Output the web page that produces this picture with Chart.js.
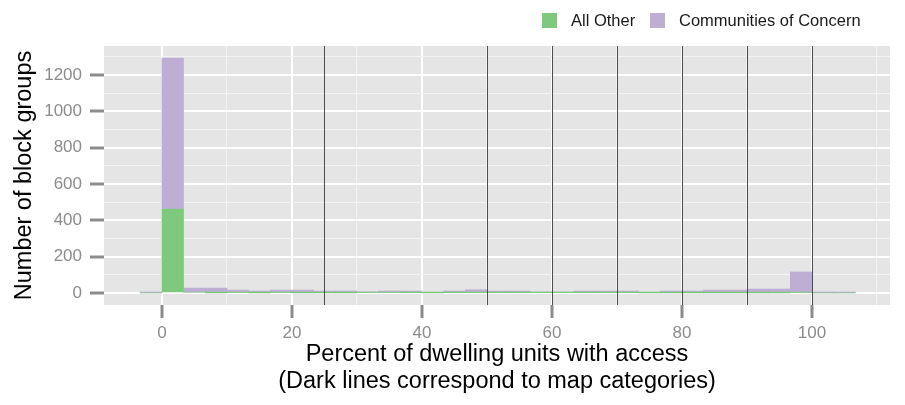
<!DOCTYPE html>
<html><head><meta charset="utf-8">
<script src="https://cdn.jsdelivr.net/npm/chart.js@4.4.0/dist/chart.umd.min.js"></script>
<style>
html,body{margin:0;padding:0;background:#fff;}
#wrap{position:relative;width:905px;height:405px;overflow:hidden;}
canvas{position:absolute;left:0;top:0;}
.leg{position:absolute;top:12px;height:16px;display:flex;align-items:center;font:16.5px 'Liberation Sans',Arial,Helvetica,sans-serif;color:#1a1a1a;white-space:nowrap;}
.sw{display:inline-block;width:15px;height:15px;margin-right:14px;}
</style></head><body>
<div id="wrap"><canvas id="c" width="905" height="405"></canvas></div>
<script>
// Histogram bins (bin centres, percent of dwelling units with access)
const binCenters = [-1.667, 1.667, 5.0, 8.333, 11.667, 15.0, 18.333, 21.667, 25.0, 28.333,
  31.667, 35.0, 38.333, 41.667, 45.0, 48.333, 51.667, 55.0, 58.333, 61.667,
  65.0, 68.333, 71.667, 75.0, 78.333, 81.667, 85.0, 88.333, 91.667, 95.0,
  98.333, 101.667, 105.0];
const allOther = [0, 462, 5, 1, 3, 1, 3, 1, 1, 1,
  3, 3, 2, 1, 2, 2, 2, 2, 2, 2,
  2, 2, 2, 1, 1, 1, 1, 1, 1, 1,
  3, 0, 0];
const communitiesOfConcern = [2, 831, 22, 26, 13, 10, 13, 15, 10, 10,
  3, 8, 9, 3, 9, 16, 9, 9, 3, 3,
  9, 9, 9, 3, 10, 10, 15, 15, 21, 21,
  113, 2, 2];
const seriesNames = ['All Other', 'Communities of Concern'];
const seriesColors = ['#7FC97F', '#BEAED4'];
const mapBreaks = [25, 50, 60, 70, 80, 90, 100];
const xTickStep = 10, xLabelStep = 20;
const yTickStep = 100, yLabelStep = 200;

// legend (HTML)
const wrap = document.getElementById('wrap');
const legendLeft = [542, 650];
seriesNames.forEach((n, i) => {
  const d = document.createElement('div');
  d.className = 'leg';
  d.style.left = legendLeft[i] + 'px';
  const s = document.createElement('span');
  s.className = 'sw';
  s.style.background = seriesColors[i];
  d.appendChild(s);
  d.appendChild(document.createTextNode(n));
  wrap.appendChild(d);
});

const FONT = "'Liberation Sans', Arial, Helvetica, sans-serif";
const isMajor = (v, step) => Math.abs(v / step - Math.round(v / step)) < 1e-6;
const tv = c => (c && c.tick) ? c.tick.value : NaN;

const panelBg = {
  id: 'panelBg',
  beforeDraw(chart) {
    const {ctx, chartArea: a} = chart;
    ctx.save();
    ctx.fillStyle = '#E5E5E5';
    ctx.fillRect(a.left, a.top, a.right - a.left, a.bottom - a.top);
    ctx.restore();
  }
};
const vlines = {
  id: 'vlines',
  afterDatasetsDraw(chart) {
    const {ctx, chartArea: a, scales: {x}} = chart;
    ctx.save();
    ctx.strokeStyle = '#4D4D4D';
    ctx.lineWidth = 1;
    mapBreaks.forEach(v => {
      const px = Math.round(x.getPixelForValue(v)) + 0.5;
      ctx.beginPath();
      ctx.moveTo(px, a.top);
      ctx.lineTo(px, a.bottom);
      ctx.stroke();
    });
    ctx.restore();
  }
};

const mk = (arr) => binCenters.map((c, i) => ({x: c, y: arr[i]}));

new Chart(document.getElementById('c'), {
  type: 'bar',
  data: {
    datasets: [
      {label: seriesNames[0], data: mk(allOther), backgroundColor: seriesColors[0], borderWidth: 0,
        barPercentage: 1, categoryPercentage: 1},
      {label: seriesNames[1], data: mk(communitiesOfConcern), backgroundColor: seriesColors[1], borderWidth: 0,
        barPercentage: 1, categoryPercentage: 1}
    ]
  },
  options: {
    responsive: false,
    devicePixelRatio: 1,
    animation: false,
    layout: {padding: {top: 46, right: 15, left: 0, bottom: 0}},
    plugins: {legend: {display: false}, tooltip: {enabled: false}},
    scales: {
      x: {
        type: 'linear', stacked: true, min: -8.9, max: 112.0, offset: false,
        afterFit: s => { s.height = 100; },
        border: {display: false},
        grid: {
          offset: false,
          color: c => isMajor(tv(c), xLabelStep) ? '#FFFFFF' : '#F3F3F3',
          lineWidth: c => isMajor(tv(c), xLabelStep) ? 2 : 1,
          tickColor: c => isMajor(tv(c), xLabelStep) ? '#8C8C8C' : 'rgba(0,0,0,0)',
          tickWidth: 3, tickLength: 13, drawTicks: true
        },
        ticks: {
          stepSize: xTickStep, includeBounds: false, autoSkip: false, maxRotation: 0, padding: 5,
          color: '#8C8C8C', font: {family: FONT, size: 17},
          callback: v => isMajor(v, xLabelStep) ? String(Math.round(v)) : ''
        },
        title: {
          display: true,
          text: ['Percent of dwelling units with access', '(Dark lines correspond to map categories)'],
          color: '#000', font: {family: FONT, size: 23.5, lineHeight: 1.15}, padding: {top: 0, bottom: 9.5}
        }
      },
      y: {
        type: 'linear', stacked: true, min: -66, max: 1360,
        afterFit: s => { s.width = 104; },
        border: {display: false},
        grid: {
          offset: false,
          color: c => isMajor(tv(c), yLabelStep) ? '#FFFFFF' : '#F3F3F3',
          lineWidth: c => isMajor(tv(c), yLabelStep) ? 2 : 1,
          tickColor: c => isMajor(tv(c), yLabelStep) ? '#8C8C8C' : 'rgba(0,0,0,0)',
          tickWidth: 3, tickLength: 14, drawTicks: true
        },
        ticks: {
          stepSize: yTickStep, includeBounds: false, autoSkip: false, padding: 8,
          color: '#8C8C8C', font: {family: FONT, size: 17},
          callback: v => isMajor(v, yLabelStep) ? String(Math.round(v)) : ''
        },
        title: {
          display: true, text: 'Number of block groups',
          color: '#000', font: {family: FONT, size: 23.5, lineHeight: 1.15}, padding: {top: 11.5, bottom: 0}
        }
      }
    }
  },
  plugins: [panelBg, vlines]
});
</script>
</body></html>
